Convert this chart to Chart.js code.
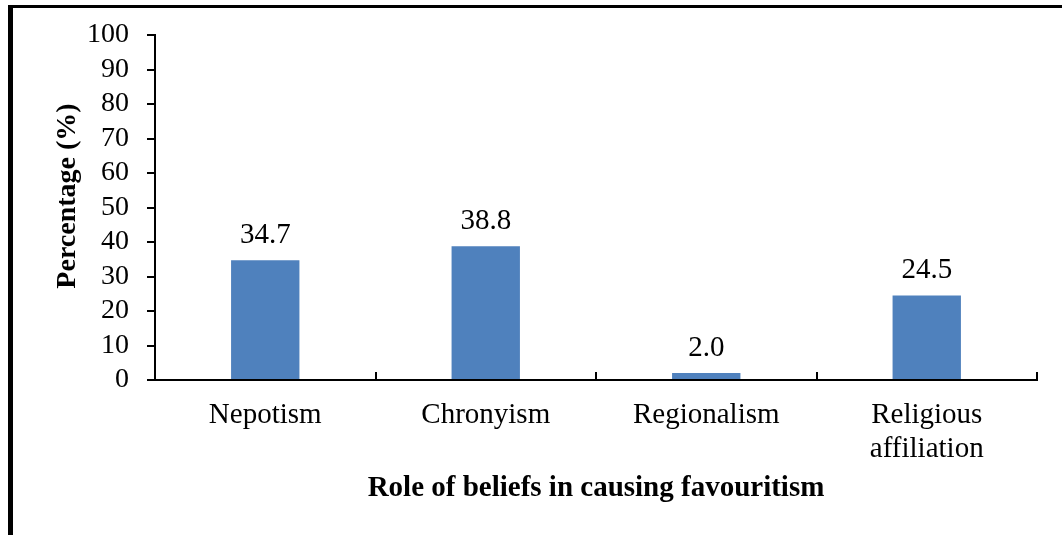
<!DOCTYPE html>
<html>
<head>
<meta charset="utf-8">
<script src="https://cdn.jsdelivr.net/npm/chart.js@4/dist/chart.umd.min.js"></script>
<style>
  html, body { margin: 0; padding: 0; background: #fff; }
  #wrap { position: relative; width: 1062px; height: 535px; }
  #frame { position: absolute; left: 8px; top: 5px; right: 0; bottom: 0;
           border-left: 5px solid #000; border-top: 3px solid #000; pointer-events: none; }
  canvas { display: block; }
</style>
</head>
<body>
<div id="wrap">
  <canvas id="c" width="1062" height="535"></canvas>
  <div id="frame"></div>
</div>
<script>
const categories = ['Nepotism', 'Chronyism', 'Regionalism', ['Religious', 'affiliation']];
const percentages = [34.7, 38.8, 2.0, 24.5];
const yMin = 0;
const yMax = 100;
const yStep = 10;
const xTitle = 'Role of beliefs in causing favouritism';
const yTitle = 'Percentage (%)';

const FONT = '"Liberation Serif", "Times New Roman", serif';

const overlayText = {
  id: 'overlayText',
  afterDatasetsDraw(chart) {
    const ctx = chart.ctx;
    const meta = chart.getDatasetMeta(0);
    ctx.save();
    ctx.fillStyle = '#000';
    ctx.font = '29px ' + FONT;
    ctx.textAlign = 'center';
    ctx.textBaseline = 'alphabetic';
    meta.data.forEach((bar, i) => {
      ctx.fillText(percentages[i].toFixed(1), bar.x, bar.y - 17);
    });
    ctx.restore();
  },
  afterDraw(chart) {
    const ctx = chart.ctx;
    const area = chart.chartArea;
    ctx.save();
    ctx.fillStyle = '#000';
    ctx.font = 'bold 29px ' + FONT;
    ctx.textAlign = 'center';
    ctx.textBaseline = 'alphabetic';
    ctx.fillText(xTitle, (area.left + area.right) / 2, 496);
    ctx.font = 'bold 28px ' + FONT;
    ctx.translate(75, 196);
    ctx.rotate(-Math.PI / 2);
    ctx.fillText(yTitle, 0, 0);
    ctx.restore();
  }
};

new Chart(document.getElementById('c'), {
  type: 'bar',
  data: {
    labels: categories,
    datasets: [{
      data: percentages,
      backgroundColor: '#4F81BD',
      borderWidth: 0,
      categoryPercentage: 1.0,
      barPercentage: 0.31
    }]
  },
  options: {
    responsive: false,
    animation: false,
    devicePixelRatio: 1,
    layout: { padding: { top: 35, right: 25, left: 0, bottom: 0 } },
    plugins: { legend: { display: false }, tooltip: { enabled: false } },
    scales: {
      x: {
        afterFit(scale) { scale.height = 155; },
        grid: { drawOnChartArea: false, drawTicks: true, tickLength: -8, color: '#000', lineWidth: 2, offset: true },
        border: { display: true, color: '#000', width: 2 },
        ticks: {
          color: '#000',
          padding: 26,
          maxRotation: 0,
          autoSkip: false,
          font: { family: FONT, size: 29, lineHeight: 1.17 }
        }
      },
      y: {
        min: yMin,
        max: yMax,
        afterFit(scale) { scale.width = 155; },
        grid: { drawOnChartArea: false, drawTicks: true, tickLength: 8, color: '#000', lineWidth: 2 },
        border: { display: true, color: '#000', width: 2 },
        ticks: {
          stepSize: yStep,
          autoSkip: false,
          color: '#000',
          padding: 18,
          font: { family: FONT, size: 28 }
        }
      }
    }
  },
  plugins: [overlayText]
});
</script>
</body>
</html>
